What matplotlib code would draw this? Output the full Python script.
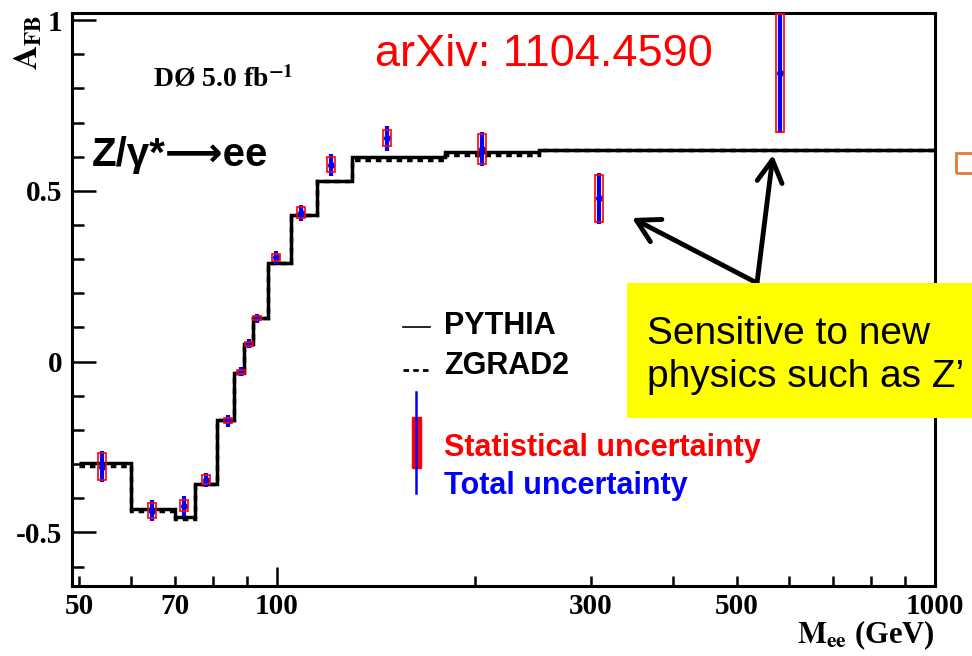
import numpy as np
import matplotlib
matplotlib.use("Agg")
import matplotlib.pyplot as plt
from matplotlib.patches import Rectangle

# MC predictions, binned in M_ee (GeV)
edges = [50, 60, 70, 75, 81, 86, 89, 92, 97, 105, 115, 130, 180, 250, 500, 1000]
pythia = [-0.297, -0.431, -0.455, -0.358, -0.171, -0.033, 0.052, 0.128, 0.290,
          0.430, 0.530, 0.598, 0.615, 0.620, 0.620]
zgrad2 = [-0.306, -0.438, -0.461, -0.358, -0.171, -0.033, 0.052, 0.128, 0.290,
          0.430, 0.530, 0.590, 0.606, 0.620, 0.620]

# DO data points
mass = [54.2, 64.5, 72.3, 77.9, 84.1, 88.0, 90.6, 93.1, 99.7, 108.7, 120.8, 147, 205, 308, 581]
afb = [-0.308, -0.436, -0.422, -0.346, -0.173, -0.029, 0.052, 0.127, 0.305,
       0.436, 0.576, 0.654, 0.623, 0.478, 0.845]
stat_err = [0.040, 0.022, 0.016, 0.013, 0.007, 0.006, 0.006, 0.006, 0.010,
            0.016, 0.022, 0.023, 0.045, 0.069, 0.172]
tot_err = [0.045, 0.032, 0.029, 0.021, 0.017, 0.012, 0.013, 0.013, 0.020,
           0.024, 0.032, 0.036, 0.049, 0.074, 0.175]

xtick_major = [100, 1000]
xtick_minor = [50, 60, 70, 80, 90, 200, 300, 400, 500, 600, 700, 800, 900]
xlabels_minor = ['50', '', '70', '', '', '', '300', '', '500', '', '', '', '']
yticks = [-0.5, 0, 0.5, 1]
ylabels = ['-0.5', '0', '0.5', '1']

plt.rcParams['mathtext.fontset'] = 'stix'
serif = 'Liberation Serif'
sans = 'Liberation Sans'

fig = plt.figure(figsize=(9.72, 6.56), dpi=100)
ax = fig.add_axes([0.0741, 0.1067, 0.8879, 0.8735])
ax.set_xscale('log')

# curves
ax.stairs(zgrad2, edges, baseline=None, color='black', lw=2.5, linestyle=(0, (1.6, 1.4)))
ax.stairs(pythia, edges, baseline=None, color='black', lw=2.5)

# total uncertainty (blue) and statistical boxes (red)
ax.errorbar(mass, afb, yerr=tot_err, fmt='o', color='blue', ms=4, elinewidth=3, capsize=0, zorder=3)
m = np.array(mass)
d = 0.0061  # half box width in decades
ax.bar(m * 10**-d, 2 * np.array(stat_err), width=m * (10**d - 10**-d),
       bottom=np.array(afb) - np.array(stat_err), align='edge',
       fill=False, edgecolor='red', lw=1.2, zorder=4)

ax.set_xlim(48.8, 1000)
ax.set_ylim(-0.657, 1.021)

ax.set_xticks(xtick_major)
ax.set_xticklabels(['100', '1000'])
ax.set_xticks(xtick_minor, minor=True)
ax.set_xticklabels(xlabels_minor, minor=True)
ax.set_yticks(yticks)
ax.set_yticklabels(ylabels)
ax.set_yticks(np.arange(-0.6, 1.01, 0.1), minor=True)

ax.tick_params(axis='x', which='major', direction='in', length=14, width=1.8, pad=5)
ax.tick_params(axis='x', which='minor', direction='in', length=7, width=1.8, pad=5)
ax.tick_params(axis='y', which='major', direction='in', length=17, width=1.8, pad=7)
ax.tick_params(axis='y', which='minor', direction='in', length=8.5, width=1.8)
for lab in ax.get_xticklabels(which='both') + ax.get_yticklabels():
    lab.set_fontfamily(serif)
    lab.set_fontweight('bold')
    lab.set_fontsize(21)
for s in ax.spines.values():
    s.set_linewidth(2.2)

# axis titles
fig.text(0.962, 0.032, r'$\mathbf{M_{ee}}$ (GeV)', ha='right', va='center',
         fontsize=22, family=serif, fontweight='bold')
fig.text(0.029, 0.978, r'$\mathbf{A_{FB}}$', rotation=90, ha='center', va='top', fontsize=24)

# labels inside the frame
ax.text(0.094, 0.885, r'DØ 5.0 fb$^{\mathbf{-1}}$', transform=ax.transAxes,
        fontsize=20, family=serif, fontweight='bold', va='center')
ax.text(0.023, 0.752, 'Z/γ*⟶ee', transform=ax.transAxes, fontsize=29,
        family=[sans, 'DejaVu Sans'], fontweight='bold', va='center')
fig.text(375 / 972, 1 - 54 / 656, 'arXiv: 1104.4590', color='red', fontsize=32.5,
         family=sans, va='center')

# hand-made legend
ax.plot([0.3835, 0.415], [0.452, 0.452], transform=ax.transAxes, color='black', lw=1.2)
ax.plot([0.3835, 0.415], [0.377, 0.377], transform=ax.transAxes, color='black', lw=2,
        linestyle=(0, (2, 1.5)))
ax.text(0.431, 0.454, 'PYTHIA', transform=ax.transAxes, fontsize=22,
        family=sans, fontweight='bold', va='center')
ax.text(0.431, 0.384, 'ZGRAD2', transform=ax.transAxes, fontsize=22,
        family=sans, fontweight='bold', va='center')
ax.plot([0.3986, 0.3986], [0.1623, 0.3386], transform=ax.transAxes, color='blue', lw=1.8)
ax.add_patch(Rectangle((0.394, 0.206), 0.0104, 0.089, transform=ax.transAxes,
                       facecolor='red', edgecolor='red', lw=1))
ax.text(0.431, 0.241, 'Statistical uncertainty', transform=ax.transAxes, fontsize=22,
        family=sans, fontweight='bold', va='center', color='red')
ax.text(0.431, 0.1745, 'Total uncertainty', transform=ax.transAxes, fontsize=22,
        family=sans, fontweight='bold', va='center', color='blue')

# slide annotations
fig.patches.append(Rectangle((627 / 972, 1 - 418 / 656), 0.36, 135 / 656,
                             transform=fig.transFigure, facecolor='#FFFF00',
                             edgecolor='none', zorder=5))
fig.text(647 / 972, 1 - 387 / 656, 'Sensitive to new\nphysics such as Z\u2019',
         fontsize=28, family=sans, va='baseline', linespacing=1.25, zorder=6)
fig.patches.append(Rectangle((956 / 972, 1 - 173 / 656), 0.03, 20 / 656,
                             transform=fig.transFigure, fill=False,
                             edgecolor='#E07B39', lw=2))
for tip in [(632, 218), (773, 155)]:
    ax.annotate('', xy=(tip[0] / 972, 1 - tip[1] / 656), xytext=(757 / 972, 1 - 283 / 656),
                xycoords='figure fraction', textcoords='figure fraction',
                arrowprops=dict(arrowstyle='->,head_length=0.8,head_width=0.45',
                                lw=3.5, color='black', mutation_scale=20,
                                shrinkA=0, shrinkB=0))

fig.savefig('out.png', dpi=100)
